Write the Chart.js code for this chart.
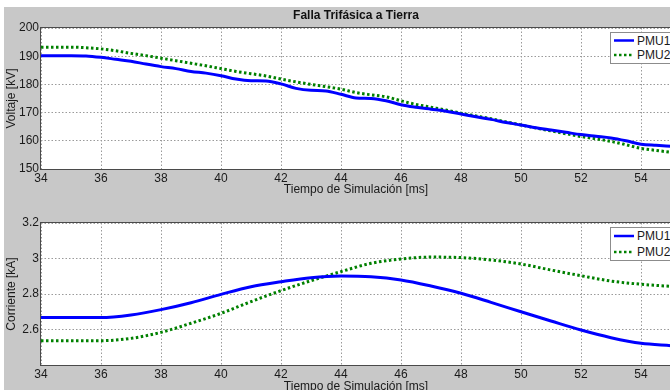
<!DOCTYPE html>
<html>
<head>
<meta charset="utf-8">
<script src="https://cdn.jsdelivr.net/npm/chart.js@4/dist/chart.umd.min.js"></script>
<style>
  html, body { margin:0; padding:0; width:670px; height:390px; overflow:hidden; background:#fff; }
  #fig { position:absolute; left:4px; top:7px; width:700px; height:400px; background:#c8c8c8; }
  canvas { position:absolute; }
  .leg { position:absolute; background:#fff; border:1px solid #8c8c8c; width:80px; height:30px;
         font:12px "Liberation Sans", Arial, sans-serif; color:#1a1a1a; }
  .leg .row { position:absolute; left:0; height:14px; line-height:14px; }
  .leg svg { position:absolute; left:2px; top:0; }
  .leg span { position:absolute; left:26px; top:0; }
</style>
</head>
<body>
<div id="fig"></div>
<canvas id="c1" width="680" height="197" style="left:0;top:0"></canvas>
<canvas id="c2" width="680" height="200" style="left:0;top:200px"></canvas>
<div class="leg" style="left:610px;top:32px">
  <div class="row" style="top:1px"><svg width="22" height="14"><line x1="1" y1="6.5" x2="21" y2="6.5" stroke="#0000ff" stroke-width="2.5"/></svg><span>PMU1</span></div>
  <div class="row" style="top:15px"><svg width="22" height="14"><line x1="1" y1="7" x2="21" y2="7" stroke="#008000" stroke-width="2.5" stroke-dasharray="2.5 2.5"/></svg><span>PMU2</span></div>
</div>
<div class="leg" style="left:610px;top:227px;height:32px">
  <div class="row" style="top:1px"><svg width="22" height="14"><line x1="1" y1="7" x2="21" y2="7" stroke="#0000ff" stroke-width="2.5"/></svg><span>PMU1</span></div>
  <div class="row" style="top:17px"><svg width="22" height="14"><line x1="1" y1="7" x2="21" y2="7" stroke="#008000" stroke-width="2.5" stroke-dasharray="2.5 2.5"/></svg><span>PMU2</span></div>
</div>
<script>
// ---- data ----
const timeV = [34,34.5,35,35.5,36,36.5,37,37.5,38,38.5,39,39.5,40,40.5,41,41.5,42,42.5,43,43.5,44,44.5,45,45.5,46,46.5,47,47.5,48,48.5,49,49.5,50,50.5,51,51.5,52,52.5,53,53.5,54,54.5,55];
const voltPMU1 = [190.2,190.2,190.2,190.1,189.6,188.9,188.2,187.2,186.3,185.6,184.6,184.0,183.1,181.9,181.3,181.2,180.2,178.6,177.9,177.7,176.5,175.2,175.0,174.2,172.8,171.9,171.2,170.5,169.5,168.5,167.6,166.5,165.6,164.6,163.8,163.0,162.2,161.6,161.0,160.0,158.8,158.4,158.1];
const voltPMU2 = [193.2,193.2,193.2,193.0,192.6,191.9,191.0,190.2,189.3,188.4,187.5,186.6,185.6,184.6,183.8,183.0,181.9,180.9,180.0,179.2,178.3,177.1,176.3,175.6,174.2,172.9,171.9,170.9,169.8,168.8,167.8,166.7,165.6,164.5,163.5,162.5,161.5,160.7,159.8,158.6,157.3,156.6,155.9];
const timeI = [34,35,36,37,38,39,40,41,42,43,44,45,46,47,48,49,50,51,52,53,54,55];
const curPMU1 = [2.667,2.667,2.667,2.682,2.712,2.751,2.798,2.841,2.869,2.892,2.901,2.897,2.879,2.845,2.804,2.753,2.700,2.648,2.597,2.554,2.522,2.509];
const curPMU2 = [2.537,2.537,2.537,2.550,2.584,2.635,2.691,2.757,2.819,2.875,2.926,2.973,2.997,3.008,3.005,2.992,2.969,2.935,2.903,2.873,2.855,2.843];
const xTicks = [34,36,38,40,42,44,46,48,50,52,54];
const xTickLabels = ['34','36','38','40','42','44','46','48','50','52','54'];
const yTicksV = [150,160,170,180,190,200];
const yTickLabelsV = ['150','160','170','180','190','200'];
const yTicksI = [2.4,2.6,2.8,3.0,3.2];
const yTickLabelsI = ['','2.6','2.8','3','3.2'];
const seriesNames = ['PMU1','PMU2'];

const FONT = '"Liberation Sans", Arial, sans-serif';
const TXT = '#1a1a1a';

const frame = {
  id: 'frame',
  beforeDraw(c) {
    const {ctx, chartArea: a} = c;
    ctx.save(); ctx.fillStyle = '#fff';
    ctx.fillRect(a.left, a.top, a.width, a.height); ctx.restore();
  },
  afterDraw(c) {
    const {ctx, chartArea: a} = c;
    ctx.save(); ctx.setLineDash([]); ctx.strokeStyle = '#4a4a4a'; ctx.lineWidth = 1;
    ctx.strokeRect(Math.round(a.left) - 0.5, Math.round(a.top) - 0.5, Math.round(a.width) + 1, Math.round(a.height) + 1);
    ctx.restore();
  }
};

function mk(id, t, s1, s2, yT, yL, yMin, yMax, yTitle, opts) {
  const toPts = (xs, ys) => xs.map((x, i) => ({x, y: ys[i]}));
  return new Chart(document.getElementById(id), {
    type: 'line',
    data: { datasets: [
      { label: seriesNames[0], data: toPts(t, s1), borderColor: '#0000ff', borderWidth: 3, pointRadius: 0, cubicInterpolationMode: 'monotone', fill: false },
      { label: seriesNames[1], data: toPts(t, s2), borderColor: '#008000', borderWidth: 3, borderDash: [2.5, 2.5], pointRadius: 0, cubicInterpolationMode: 'monotone', fill: false }
    ]},
    options: {
      responsive: false, animation: false, devicePixelRatio: 1,
      layout: { padding: { left: 0, right: 9, top: opts.padTop, bottom: 0 } },
      plugins: {
        legend: { display: false }, tooltip: { enabled: false },
        title: opts.title ? { display: true, text: opts.title, fullSize: false, color: '#111',
          font: { family: FONT, size: 12, weight: 'bold' }, padding: { top: 8, bottom: 5.6 } } : { display: false }
      },
      scales: {
        x: {
          type: 'linear', min: 34, max: 55,
          afterBuildTicks: s => { s.ticks = xTicks.map(v => ({value: v})); },
          afterFit: s => { s.height = opts.xH; },
          ticks: { callback: (v, i) => xTickLabels[i], color: TXT, font: { family: FONT, size: 12 }, padding: 2, maxRotation: 0, autoSkip: false },
          grid: { color: '#9a9a9a', lineWidth: 1, drawTicks: false, borderDash: [1.5, 2] },
          border: { display: false, dash: [1.5, 2] },
          title: { display: true, text: 'Tiempo de Simulación [ms]', color: TXT, font: { family: FONT, size: 12 }, padding: { top: 0, bottom: opts.xTitlePad } }
        },
        y: {
          min: yMin, max: yMax,
          afterBuildTicks: s => { s.ticks = yT.map(v => ({value: v})); },
          afterFit: s => { s.width = 41; },
          ticks: { callback: (v, i) => yL[i], color: TXT, font: { family: FONT, size: 12 }, padding: 2, autoSkip: false },
          grid: { color: '#9a9a9a', lineWidth: 1, drawTicks: false, borderDash: [1.5, 2] },
          border: { display: false, dash: [1.5, 2] },
          title: { display: true, text: yTitle, color: TXT, font: { family: FONT, size: 12 }, padding: { top: 4, bottom: 0 } }
        }
      }
    },
    plugins: [frame]
  });
}

mk('c1', timeV, voltPMU1, voltPMU2, yTicksV, yTickLabelsV, 150, 200, 'Voltaje [kV]',
   { padTop: 0, title: 'Falla Trifásica a Tierra', xH: 28, xTitlePad: 0 });
mk('c2', timeI, curPMU1, curPMU2, yTicksI, yTickLabelsI, 2.4, 3.2, 'Corriente [kA]',
   { padTop: 23, title: null, xH: 35, xTitlePad: 6 });
</script>
</body>
</html>
